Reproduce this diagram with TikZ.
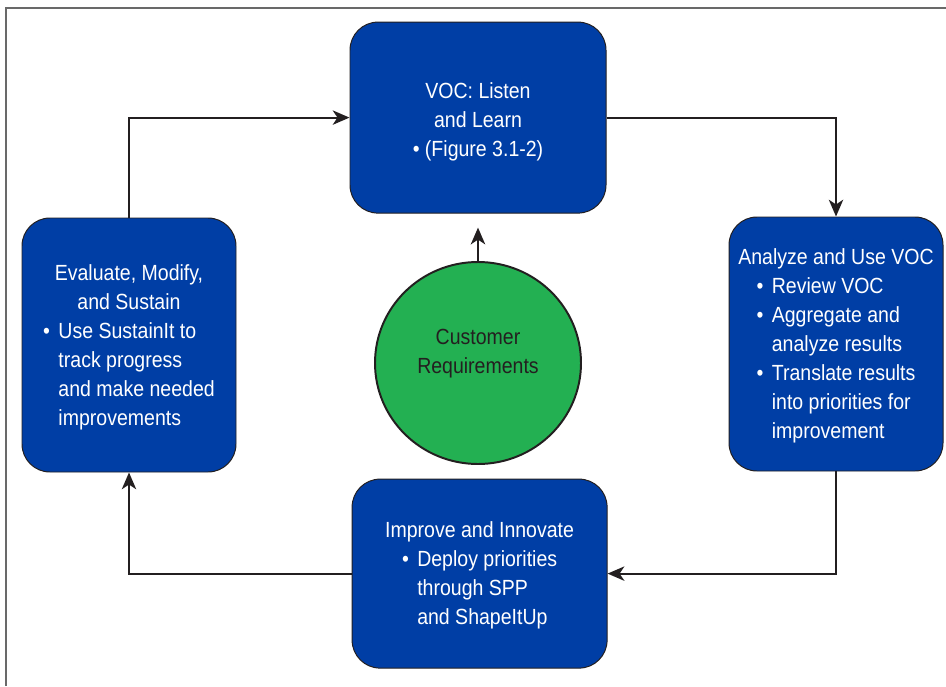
\documentclass[tikz,border=0pt]{standalone}
\usepackage{fontspec}
\setmainfont{Liberation Sans}[FakeStretch=0.89]
\usetikzlibrary{arrows.meta}
\usetikzlibrary{shapes.geometric}

\tikzset{
  stage/.style={draw=LineDark, line width=0.7pt, fill=VocBlue, rounded corners=0.7cm,
    text=white, align=center, inner sep=2pt, font=\fontsize{15.6}{20.6}\selectfont},
  flow/.style={draw=LineDark, line width=1.4pt, -{Stealth[length=0.42cm,width=0.36cm,inset=0.12cm]}},
}

\begin{document}
\begin{tikzpicture}[]
\definecolor{VocBlue}   {RGB}{0,62,165}
\definecolor{CustGreen} {RGB}{35,176,82}
\definecolor{LineDark}  {RGB}{35,31,32}
\definecolor{FrameGray} {RGB}{105,105,105}
\def\lift{\rule{0pt}{17pt}}

\useasboundingbox (0,0) rectangle (23.65,-17.15);
\draw[FrameGray, line width=1pt] (0.15,-17.15) -- (0.15,-0.2) -- (23.65,-0.2);

% the four stages of the cycle
\node[stage, minimum width=6.4cm, minimum height=4.775cm] (voc) at (11.95,-2.94)
  {\lift VOC: Listen\\and Learn\\\textbullet\ (Figure 3.1-2)};

\node[stage, minimum width=5.35cm, minimum height=6.35cm] (analyze) at (20.9,-8.6)
  {\lift Analyze and Use VOC\\
   \begin{tabular}[t]{@{}l@{\hspace{6pt}}l@{}}
   \textbullet & Review VOC\\
   \textbullet & Aggregate and\\
               & analyze results\\
   \textbullet & Translate results\\
               & into priorities for\\
               & improvement
   \end{tabular}};

\node[stage, minimum width=6.375cm, minimum height=4.725cm] (improve) at (11.99,-14.34)
  {\lift Improve and Innovate\\
   \begin{tabular}[t]{@{}l@{\hspace{6pt}}l@{}}
   \textbullet & Deploy priorities\\
               & through SPP\\
               & and ShapeItUp
   \end{tabular}};

\node[stage, minimum width=5.35cm, minimum height=6.35cm] (evaluate) at (3.225,-8.625)
  {\lift Evaluate, Modify,\\and Sustain\\
   \begin{tabular}[t]{@{}l@{\hspace{6pt}}l@{}}
   \textbullet & Use SustainIt to\\
               & track progress\\
               & and make needed\\
               & improvements
   \end{tabular}};

% centre
\node[ellipse, draw=LineDark, line width=1.4pt, fill=CustGreen, text=LineDark, align=center,
  minimum width=5.15cm, minimum height=5.05cm, text depth=17pt,
  font=\fontsize{15.6}{20.6}\selectfont] (cust) at (11.95,-9.075)
  {Customer\\Requirements};

\draw[flow] (evaluate.north) |- (voc.west);
\draw[flow] (voc.east) -| (analyze.north);
\draw[flow] (analyze.south) |- (improve.east);
\draw[flow] (improve.west) -| (evaluate.south);
\draw[flow, shorten >=0.35cm] (cust.north) -- (voc.south);

\end{tikzpicture}
\end{document}
